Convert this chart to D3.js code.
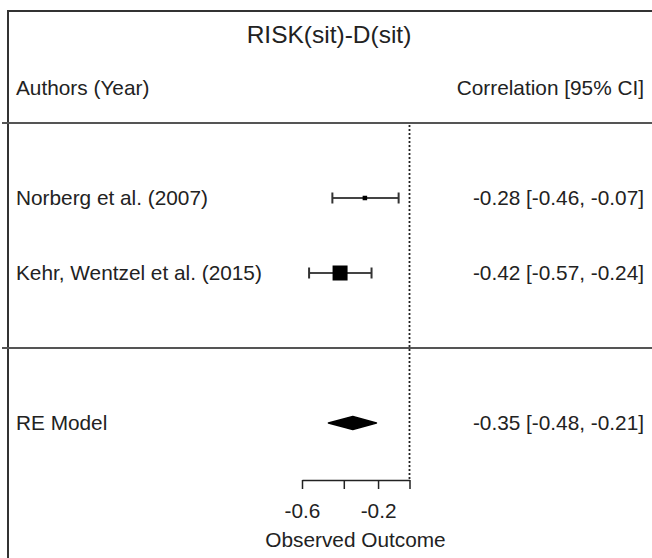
<!DOCTYPE html>
<html>
<head>
<meta charset="utf-8">
<script src="https://cdn.jsdelivr.net/npm/d3@7"></script>
<style>
  html, body { margin: 0; padding: 0; background: #fff; }
  svg { display: block; }
  text { font-family: "Liberation Sans", Arial, sans-serif; fill: #222; }
</style>
</head>
<body>
<script>
// Forest plot: correlations with 95% CIs, drawn on the Fisher z scale.
const studies   = ["Norberg et al. (2007)", "Kehr, Wentzel et al. (2015)"];
const estimates = [-0.28, -0.42];
const ciLower   = [-0.46, -0.57];
const ciUpper   = [-0.07, -0.24];

const summaryLabel = "RE Model";
const summaryEst   = -0.35;
const summaryLower = -0.48;
const summaryUpper = -0.21;

const tickValues = [-0.6, -0.4, -0.2, 0];
const tickLabels = ["-0.6", "", "-0.2", ""];

const W = 652, H = 558;
const FS = "20.8px";
const svg = d3.select("body").append("svg").attr("width", W).attr("height", H);

// Horizontal: correlation -> Fisher z -> pixels
const zScale = d3.scaleLinear().domain([Math.atanh(-0.6), 0]).range([302, 409.5]);
const x = r => zScale(Math.atanh(r));

// Vertical: plot rows (studies at 2 and 1, summary at -1)
const y = d3.scaleLinear().domain([-1, 2]).range([423, 198]);
const studyRows = studies.map((_, i) => studies.length - i);

// Plain hyphen-minus, two decimals
const fmt = v => v.toFixed(2);
const ciText = (e, l, u) => `${fmt(e)} [${fmt(l)}, ${fmt(u)}]`;

// Figure box
svg.append("rect")
  .attr("x", 8).attr("y", 11).attr("width", 700).attr("height", 600)
  .attr("fill", "none").attr("stroke", "#333").attr("stroke-width", 2);

// Title and headers
svg.append("text").attr("x", 329).attr("y", 43).attr("text-anchor", "middle")
  .style("font-size", "24.5px").text("RISK(sit)-D(sit)");
svg.append("text").attr("x", 16).attr("y", 88).attr("dy", "0.35em")
  .style("font-size", FS).text("Authors (Year)");
svg.append("text").attr("x", 644).attr("y", 88).attr("dy", "0.35em").attr("text-anchor", "end")
  .style("font-size", FS).text("Correlation [95% CI]");

// Separator lines (top of study block and above the summary)
[3, 0].forEach(r => {
  svg.append("line")
    .attr("x1", 2).attr("x2", W).attr("y1", y(r)).attr("y2", y(r))
    .attr("stroke", "#555").attr("stroke-width", 2);
});

// Reference line at zero
svg.append("line")
  .attr("x1", x(0)).attr("x2", x(0)).attr("y1", y(3) + 2).attr("y2", 480)
  .attr("stroke", "#222").attr("stroke-width", 1.8).attr("stroke-dasharray", "2,2");

// Box sizes scaled by inverse-variance weights recovered from the CIs
const weights = ciLower.map((l, i) => {
  const se = (Math.atanh(ciUpper[i]) - Math.atanh(l)) / (2 * 1.959964);
  return 1 / (se * se);
});
const boxSize = d3.scaleLinear().domain(d3.extent(weights)).range([4.5, 15]);

const g = svg.append("g");
studies.forEach((s, i) => {
  const yy = y(studyRows[i]);
  g.append("line").attr("x1", x(ciLower[i])).attr("x2", x(ciUpper[i]))
    .attr("y1", yy).attr("y2", yy).attr("stroke", "#444").attr("stroke-width", 2);
  [ciLower[i], ciUpper[i]].forEach(v => {
    g.append("line").attr("x1", x(v)).attr("x2", x(v))
      .attr("y1", yy - 5.5).attr("y2", yy + 5.5).attr("stroke", "#333").attr("stroke-width", 2);
  });
  const b = boxSize(weights[i]);
  g.append("rect").attr("x", x(estimates[i]) - b / 2).attr("y", yy - b / 2)
    .attr("width", b).attr("height", b).attr("fill", "#000");
  g.append("text").attr("x", 16).attr("y", yy).attr("dy", "0.35em")
    .style("font-size", FS).text(s);
  g.append("text").attr("x", 644).attr("y", yy).attr("dy", "0.35em").attr("text-anchor", "end")
    .style("font-size", FS).text(ciText(estimates[i], ciLower[i], ciUpper[i]));
});

// Summary diamond
const ys = y(-1);
g.append("polygon")
  .attr("points", [
    [x(summaryLower), ys], [x(summaryEst), ys - 6.5],
    [x(summaryUpper), ys], [x(summaryEst), ys + 6.5]
  ].map(p => p.join(",")).join(" "))
  .attr("fill", "#000").attr("stroke", "#000").attr("stroke-width", 1.5)
  .attr("stroke-linejoin", "round");
g.append("text").attr("x", 16).attr("y", ys).attr("dy", "0.35em")
  .style("font-size", FS).text(summaryLabel);
g.append("text").attr("x", 644).attr("y", ys).attr("dy", "0.35em").attr("text-anchor", "end")
  .style("font-size", FS).text(ciText(summaryEst, summaryLower, summaryUpper));

// X axis (ticks on the z scale, labelled in r)
const axisScale = d3.scaleLinear().domain(zScale.domain()).range(zScale.range());
const axis = d3.axisBottom(axisScale)
  .tickValues(tickValues.map(v => Math.atanh(v)))
  .tickFormat((d, i) => tickLabels[i])
  .tickSize(9).tickSizeOuter(0).tickPadding(14);
const ax = svg.append("g").attr("transform", "translate(0,480)").call(axis);
ax.select(".domain").attr("stroke", "#222").attr("stroke-width", 1.5);
ax.selectAll(".tick line").attr("stroke", "#222").attr("stroke-width", 1.5);
ax.selectAll(".tick text")
  .style("font-family", "'Liberation Sans', Arial, sans-serif")
  .style("font-size", FS).attr("fill", "#222");

svg.append("text").attr("x", 355.5).attr("y", 547).attr("text-anchor", "middle")
  .style("font-size", FS).text("Observed Outcome");
</script>
</body>
</html>
